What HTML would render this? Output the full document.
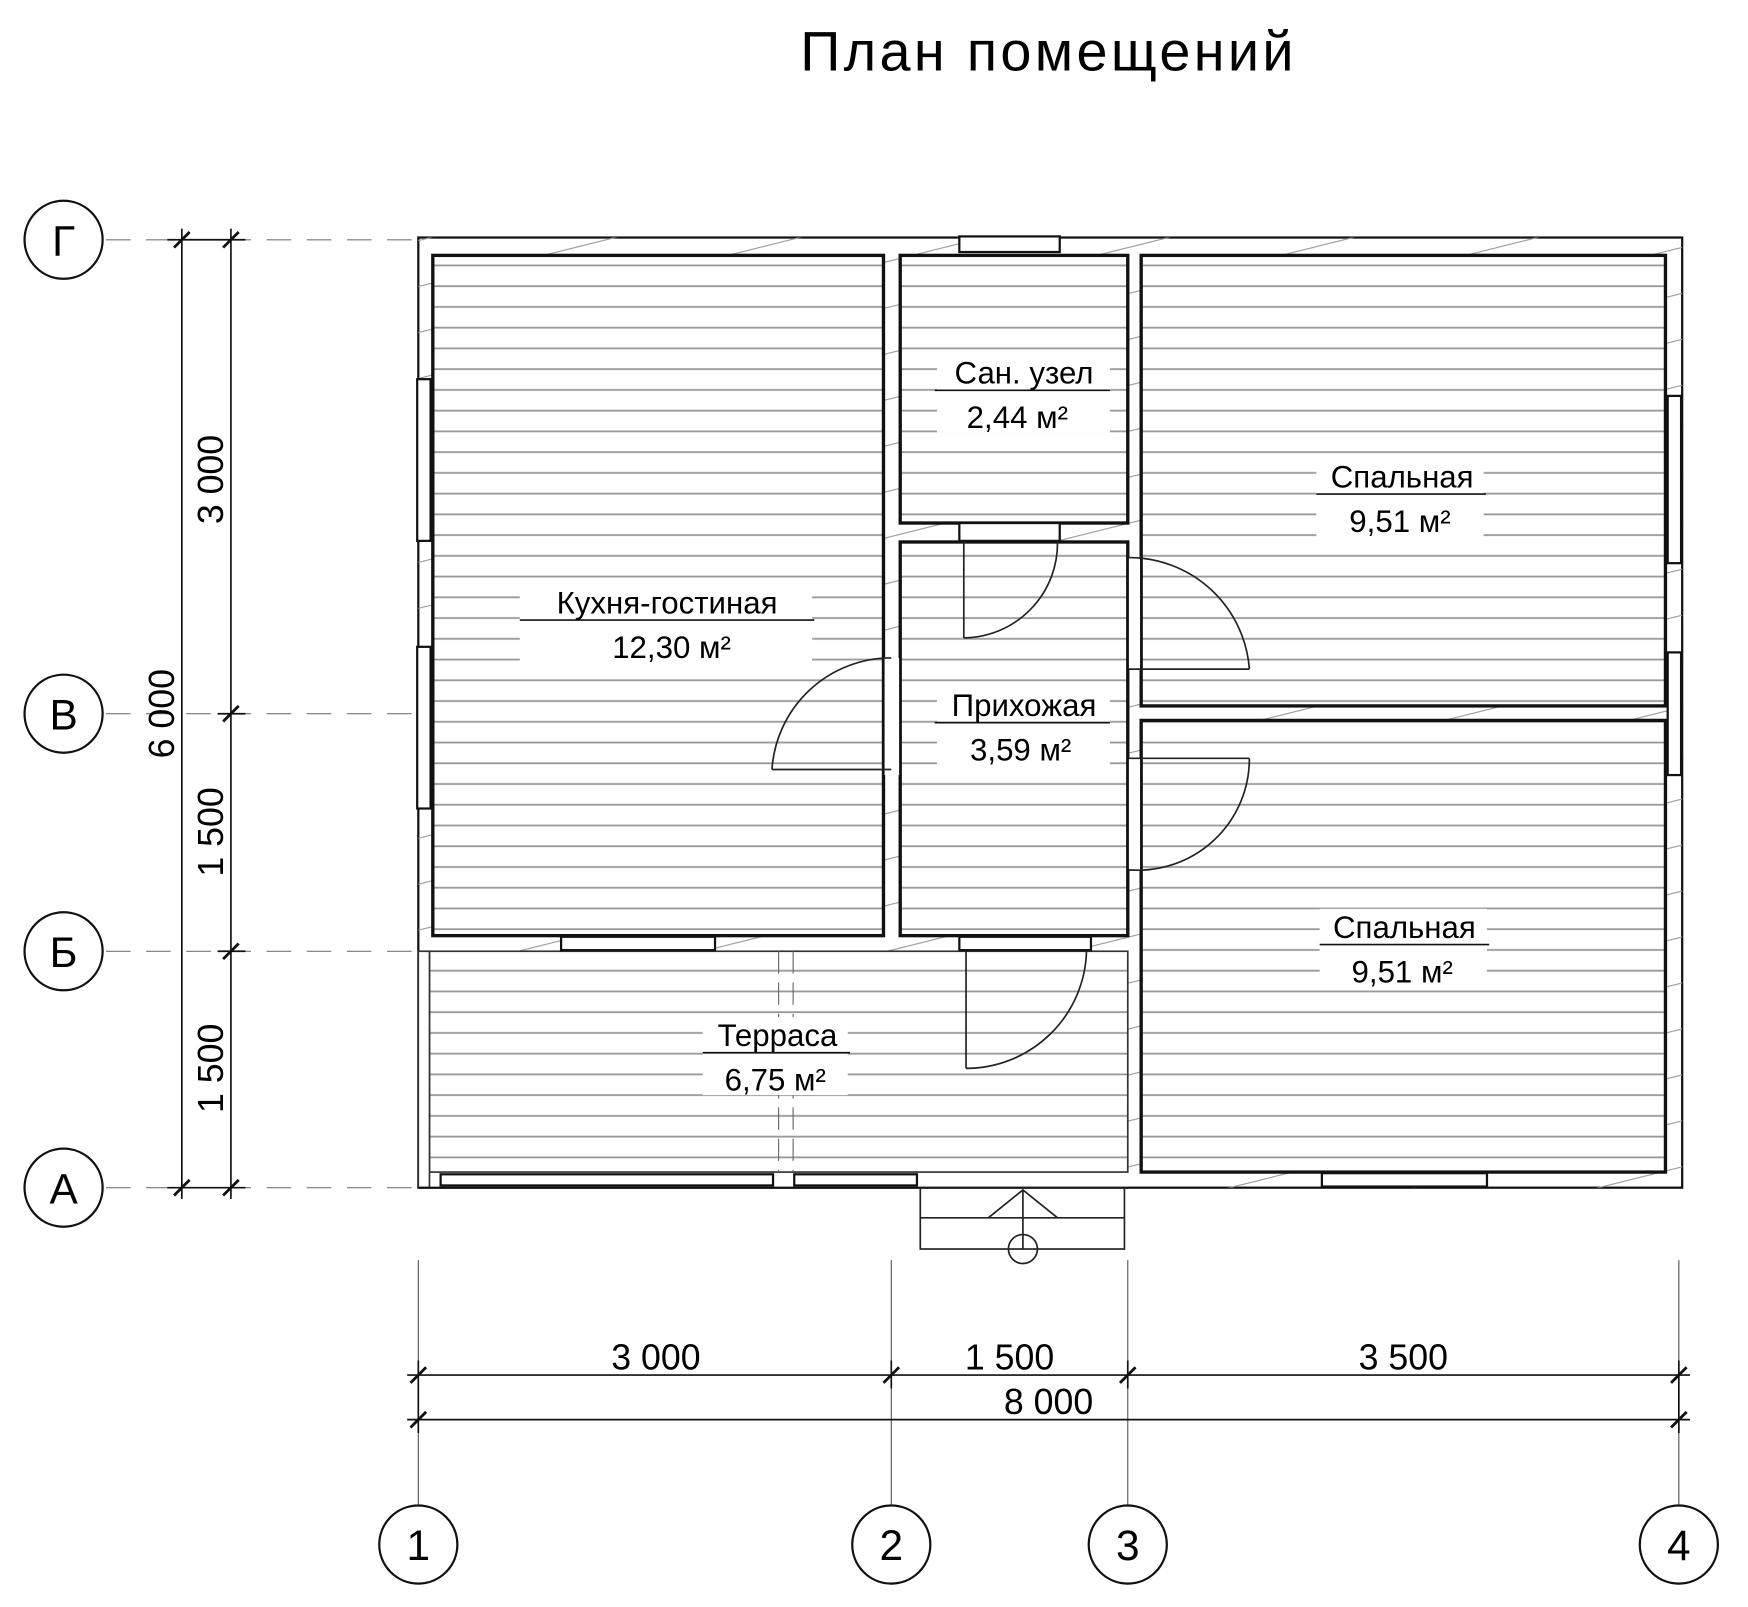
<!DOCTYPE html>
<html><head><meta charset="utf-8"><style>html,body{margin:0;padding:0;background:#fff}svg{display:block}</style></head>
<body>
<svg width="1748" height="1607" viewBox="0 0 1567 1441" preserveAspectRatio="none" xmlns="http://www.w3.org/2000/svg" font-family="Liberation Sans, DejaVu Sans, sans-serif">
<defs>
<pattern id="h" patternUnits="userSpaceOnUse" width="20" height="18.6" y="229"><line x1="0" y1="9" x2="20" y2="9" stroke="#9a9a9a" stroke-width="1.6"/></pattern>
<pattern id="d" patternUnits="userSpaceOnUse" width="200" height="40" patternTransform="rotate(-14)"><line x1="0" y1="20" x2="200" y2="20" stroke="#999" stroke-width="1"/></pattern>
</defs>
<text x="940" y="63" font-size="50" text-anchor="middle" letter-spacing="3">План помещений</text>

<g stroke="#777" stroke-width="1" stroke-dasharray="22 14">
<line x1="95" y1="215" x2="375" y2="215"/><line x1="95" y1="640" x2="1505" y2="640"/>
<line x1="95" y1="853" x2="1505" y2="853"/><line x1="95" y1="1065" x2="375" y2="1065"/>
</g>
<g stroke="#555" stroke-width="1">
<line x1="375" y1="1130" x2="375" y2="1350"/><line x1="799" y1="1130" x2="799" y2="1350"/>
<line x1="1011" y1="1130" x2="1011" y2="1350"/><line x1="1505" y1="1130" x2="1505" y2="1350"/>
</g>

<rect x="375" y="213" width="1133" height="852" fill="#fff" stroke="#111" stroke-width="2"/>
<rect x="375" y="213" width="1133" height="852" fill="url(#d)" stroke="none"/>
<g fill="#fff" stroke="none">
<rect x="388" y="229" width="404" height="610"/><rect x="807" y="229" width="204" height="240"/>
<rect x="807" y="486" width="204" height="353"/><rect x="1023" y="229" width="470" height="404"/>
<rect x="1023" y="646" width="470" height="405"/><rect x="375" y="853" width="636" height="212"/>
</g>
<rect x="388" y="229" width="404" height="610" fill="url(#h)" stroke="#111" stroke-width="3"/>
<rect x="807" y="229" width="204" height="240" fill="url(#h)" stroke="#111" stroke-width="3"/>
<rect x="807" y="486" width="204" height="353" fill="url(#h)" stroke="#111" stroke-width="3"/>
<rect x="1023" y="229" width="470" height="404" fill="url(#h)" stroke="#111" stroke-width="3"/>
<rect x="1023" y="646" width="470" height="405" fill="url(#h)" stroke="#111" stroke-width="3"/>
<rect x="385" y="853" width="626" height="198" fill="url(#h)" stroke="#333" stroke-width="1.5"/>
<rect x="375" y="853" width="10" height="212" fill="#fff" stroke="#333" stroke-width="1.5"/>
<line x1="375" y1="1065" x2="1011" y2="1065" stroke="#111" stroke-width="2"/>

<g fill="#fff" stroke="#111" stroke-width="2">
<rect x="374" y="340" width="12" height="145"/><rect x="374" y="580" width="12" height="145"/>
<rect x="1495" y="355" width="12" height="150"/><rect x="1495" y="585" width="12" height="110"/>
<rect x="860" y="212" width="90" height="14"/>
<rect x="503" y="840" width="138" height="12"/><rect x="860" y="840" width="118" height="12"/>
<rect x="1185" y="1052" width="148" height="12"/>
<rect x="395" y="1053" width="298" height="10"/><rect x="712" y="1053" width="110" height="10"/>
<rect x="860" y="469" width="90" height="16"/>
</g>
<g fill="#fff" stroke="none">
<rect x="793" y="590" width="13" height="105"/><rect x="1012" y="500" width="10" height="100"/><rect x="1012" y="680" width="10" height="100"/>
</g>
<g fill="none" stroke="#222" stroke-width="1.5">
<path d="M864 572 L864 485 M864 572 A85 85 0 0 0 948 485"/>
<path d="M692 690 L799 690 M692 690 A107 107 0 0 1 799 590"/>
<path d="M1012 600 L1120 600 M1120 600 A108 108 0 0 0 1012 500"/>
<path d="M1012 680 L1120 680 M1120 680 A100 100 0 0 1 1012 780"/>
<path d="M866 958 L866 853 M866 958 A108 108 0 0 0 974 853"/>
<rect x="825" y="1065" width="183" height="55"/>
<line x1="825" y1="1092" x2="1008" y2="1092"/>
<path d="M886 1092 L917 1067 L948 1092 M917 1067 L917 1120"/>
<circle cx="917" cy="1120" r="13"/>
</g>
<g stroke="#666" stroke-width="1" stroke-dasharray="20 8"><line x1="698" y1="853" x2="698" y2="1051"/><line x1="711" y1="853" x2="711" y2="1051"/></g>

<g font-size="28" text-anchor="middle">
<rect x="840" y="318" width="155" height="70" fill="#fff"/>
<text x="918" y="344">Сан. узел</text><text x="912" y="384">2,44 м²</text>
<line x1="838" y1="350" x2="995" y2="350" stroke="#111" stroke-width="1.5"/>
<rect x="1180" y="412" width="150" height="70" fill="#fff"/>
<text x="1257" y="437">Спальная</text><text x="1255" y="477">9,51 м²</text>
<line x1="1180" y1="443" x2="1332" y2="443" stroke="#111" stroke-width="1.5"/>
<rect x="466" y="525" width="262" height="70" fill="#fff"/>
<text x="598" y="550">Кухня-гостиная</text><text x="602" y="590">12,30 м²</text>
<line x1="466" y1="556" x2="730" y2="556" stroke="#111" stroke-width="1.5"/>
<rect x="840" y="617" width="155" height="70" fill="#fff"/>
<text x="918" y="642">Прихожая</text><text x="915" y="682">3,59 м²</text>
<line x1="838" y1="648" x2="995" y2="648" stroke="#111" stroke-width="1.5"/>
<rect x="1183" y="815" width="150" height="70" fill="#fff"/>
<text x="1259" y="841">Спальная</text><text x="1257" y="881">9,51 м²</text>
<line x1="1183" y1="847" x2="1335" y2="847" stroke="#111" stroke-width="1.5"/>
<rect x="630" y="912" width="130" height="70" fill="#fff"/>
<text x="697" y="938">Терраса</text><text x="695" y="978">6,75 м²</text>
<line x1="630" y1="944" x2="762" y2="944" stroke="#111" stroke-width="1.5"/>
</g>

<g stroke="#111" stroke-width="1.5">
<line x1="163" y1="205" x2="163" y2="1075"/><line x1="207" y1="205" x2="207" y2="1075"/>
<line x1="150" y1="215" x2="220" y2="215"/><line x1="195" y1="640" x2="220" y2="640"/>
<line x1="195" y1="853" x2="220" y2="853"/><line x1="150" y1="1065" x2="220" y2="1065"/>
<line x1="365" y1="1233" x2="1515" y2="1233"/><line x1="365" y1="1273" x2="1515" y2="1273"/>
<line x1="375" y1="1220" x2="375" y2="1285"/><line x1="799" y1="1220" x2="799" y2="1245"/>
<line x1="1011" y1="1220" x2="1011" y2="1245"/><line x1="1505" y1="1220" x2="1505" y2="1285"/>
</g>
<g stroke="#111" stroke-width="2.5">
<path d="M156 222 l14 -14 M200 222 l14 -14 M200 647 l14 -14 M200 860 l14 -14 M156 1072 l14 -14 M200 1072 l14 -14"/>
<path d="M368 1240 l14 -14 M792 1240 l14 -14 M1004 1240 l14 -14 M1498 1240 l14 -14 M368 1280 l14 -14 M1498 1280 l14 -14"/>
</g>
<g font-size="32" text-anchor="middle">
<text x="588" y="1228">3 000</text><text x="905" y="1228">1 500</text><text x="1258" y="1228">3 500</text>
<text x="940" y="1268">8 000</text>
<text transform="translate(200,430) rotate(-90)">3 000</text>
<text transform="translate(156,640) rotate(-90)">6 000</text>
<text transform="translate(200,746) rotate(-90)">1 500</text>
<text transform="translate(200,958) rotate(-90)">1 500</text>
</g>

<g fill="#fff" stroke="#111" stroke-width="2">
<circle cx="57" cy="215" r="35"/><circle cx="57" cy="640" r="35"/><circle cx="57" cy="853" r="35"/><circle cx="57" cy="1065" r="35"/>
<circle cx="375" cy="1385" r="35"/><circle cx="799" cy="1385" r="35"/><circle cx="1011" cy="1385" r="35"/><circle cx="1505" cy="1385" r="35"/>
</g>
<g font-size="38" text-anchor="middle">
<text x="57" y="229">Г</text><text x="57" y="654">В</text><text x="57" y="867">Б</text><text x="57" y="1079">А</text>
<text x="375" y="1399">1</text><text x="799" y="1399">2</text><text x="1011" y="1399">3</text><text x="1505" y="1399">4</text>
</g>
</svg>
</body></html>
